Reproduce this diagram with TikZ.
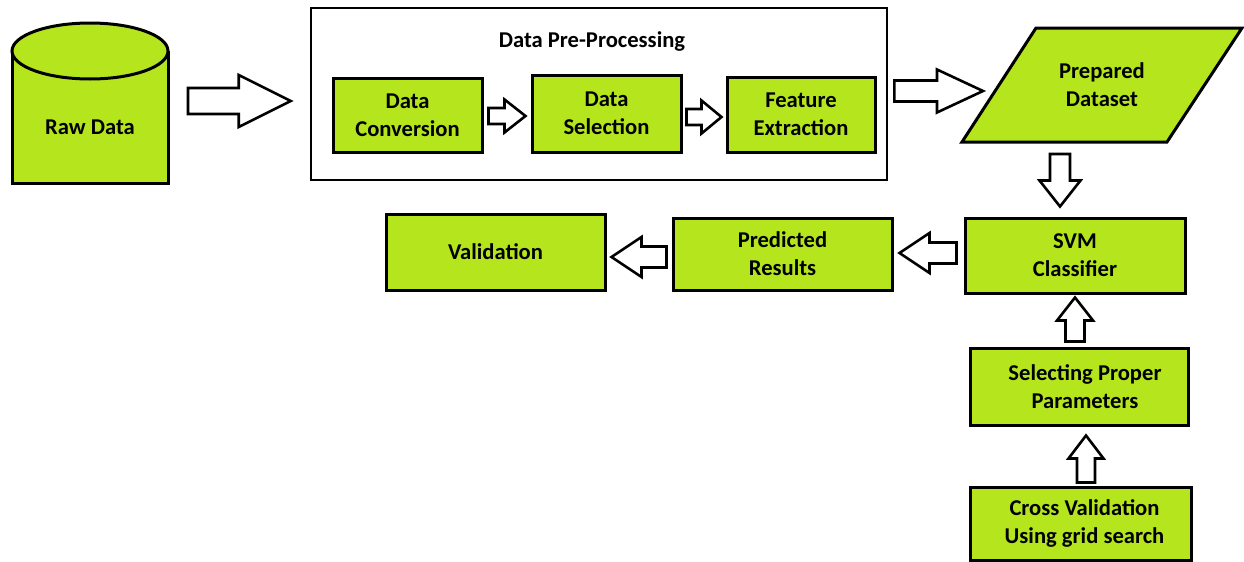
\documentclass[tikz,border=0pt]{standalone}
\usepackage{fontspec}
\setmainfont{Carlito}
\usetikzlibrary{calc}
\definecolor{PaintLime}{HTML}{B5E61D}
\def\px{0.5pt}
% hollow block arrow: start, end, shaft half width, head half width, head length (px)
\newcommand{\blockarrow}[5]{%
  \draw[hollowarrow] let \p1=#1, \p2=#2,
      \n1={veclen(\x2-\x1,\y2-\y1)}, \n2={atan2(\y2-\y1,\x2-\x1)} in
    {[shift={(\p1)}, rotate=\n2]
      (0pt,-#3*\px) -- (\n1-#5*\px,-#3*\px) -- (\n1-#5*\px,-#4*\px) -- (\n1+0pt,0pt)
      -- (\n1-#5*\px,#4*\px) -- (\n1-#5*\px,#3*\px) -- (0pt,#3*\px) -- cycle};
}

\begin{document}
\begin{tikzpicture}[x=0.5pt, y=-0.5pt,
  every node/.style={font=\bfseries\fontsize{11.3}{14}\selectfont, align=center, inner sep=0pt},
  greenbox/.style={draw=black, fill=PaintLime, line width=1.5pt},
  hollowarrow/.style={draw=black, fill=white, line width=1.3pt, line join=miter}]
  \useasboundingbox (0,0) rectangle (1244,562);
  % Raw data drum
  \fill[PaintLime] (12,51) rectangle (168,183);
  \draw[line width=1.5pt] (12,51) -- (12,183) -- (168,183) -- (168,51);
  \draw[greenbox] (90,51) ellipse [x radius=78, y radius=28];
  \node (raw) at (90,127) {Raw Data};
  % Pre-processing frame
  \node[draw=black, line width=1.3pt, minimum width=288pt, minimum height=86pt]
    (prep) at (599,94) {};
  \node (prephead) at (592,41) {Data Pre-Processing};
  \node[greenbox, minimum width=74.5pt, minimum height=37pt] (dc) at (407.5,115)
    {Data\\Conversion};
  \node[greenbox, minimum width=74.5pt, minimum height=38.5pt] (ds) at (606.5,113.5)
    {Data\\Selection};
  \node[greenbox, minimum width=74pt, minimum height=37.5pt] (fe) at (801,114.5)
    {Feature\\Extraction};
  % Prepared dataset
  \draw[greenbox, line join=miter] (1036,28) -- (1242,28) -- (1167,142) -- (962,142) -- cycle;
  \node (prepared) at (1102,85) {Prepared\\Dataset};
  % Classifier chain
  \node[greenbox, minimum width=110pt, minimum height=37.5pt] (svm) at (1075,255.5)
    {SVM\\Classifier};
  \node[greenbox, minimum width=109.5pt, minimum height=36pt] (pred) at (782.5,254)
    {Predicted\\Results};
  \node[greenbox, minimum width=109.5pt, minimum height=38pt] (valid) at (495.5,252)
    {Validation};
  \node[greenbox, minimum width=109pt, minimum height=38.5pt] (spp) at (1079,386.5)
    {\hspace*{6pt}Selecting Proper\\\hspace*{6pt}Parameters};
  \node[greenbox, minimum width=110.5pt, minimum height=36.5pt] (cv) at (1080.5,523.5)
    {\hspace*{4pt}Cross Validation\\\hspace*{4pt}Using grid search};
  % Block arrows
  \blockarrow{($(raw)+(98,-26)$)}{($(prep.west)+(-19,7)$)}{13}{26}{52}
  \blockarrow{($(dc.east)+(5,1)$)}{($(ds.west|-dc.east)+(-5,1)$)}{8}{16.5}{21}
  \blockarrow{($(ds.east)+(4,3.5)$)}{($(fe.west|-ds.east)+(-4,3.5)$)}{8}{16.5}{20}
  \blockarrow{($(prep.east)+(6,-3)$)}{($(prepared)+(-119,6)$)}{10.5}{21.5}{46}
  \blockarrow{($(prepared)+(-42,69)$)}{($(svm.north)+(-15,-10)$)}{10}{20.5}{26}
  \blockarrow{($(svm.west)+(-7,-2.5)$)}{($(pred.east|-svm.west)+(6,-2.5)$)}{10.5}{20}{30}
  \blockarrow{($(pred.west)+(-5,3)$)}{($(valid.east|-pred.west)+(5,3)$)}{10.5}{20}{30}
  \blockarrow{($(spp.north)+(-4,-5)$)}{($(svm.south)+(0,3)$)}{9.5}{18}{23}
  \blockarrow{($(cv.north)+(5.5,-3)$)}{($(spp.south)+(7,9)$)}{9}{17.5}{23}
\end{tikzpicture}
\end{document}
